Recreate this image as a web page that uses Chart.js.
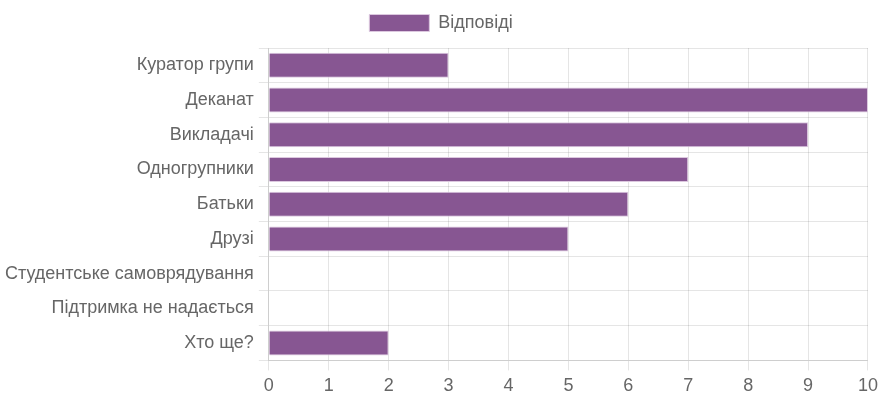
<!DOCTYPE html>
<html>
<head>
<meta charset="utf-8">
<script src="https://cdn.jsdelivr.net/npm/chart.js@4"></script>
<style>
  html, body { margin: 0; padding: 0; background: #fff; }
  #wrap { width: 883px; height: 402px; }
</style>
</head>
<body>
<div id="wrap"><canvas id="chart" width="883" height="402"></canvas></div>
<script>
const categories = ['Куратор групи', 'Деканат', 'Викладачі', 'Одногрупники', 'Батьки', 'Друзі', 'Студентське самоврядування', 'Підтримка не надається', 'Хто ще?']
const answers = [3, 10, 9, 7, 6, 5, 0, 0, 2]
const xTicks = [0, 1, 2, 3, 4, 5, 6, 7, 8, 9, 10]

const textColor = '#666'
const gridColor = 'rgba(0,0,0,0.1)'
const fontFamily = 'Arial, "Liberation Sans", sans-serif'

// легенда по центру полотна + трохи більше місця під нею
const legendSpacer = {
  id: 'legendSpacer',
  beforeInit(chart) {
    const fit = chart.legend.fit
    chart.legend.fit = function () {
      fit.bind(chart.legend)()
      this.height += 6
    }
  },
  afterLayout(chart) {
    chart.legend.left += 7
    chart.legend.right += 7
  }
}

new Chart(document.getElementById('chart'), {
  type: 'bar',
  data: {
    labels: categories,
    datasets: [{
      label: 'Відповіді',
      data: answers,
      backgroundColor: '#875692',
      borderColor: '#dcc8df',
      borderWidth: 1
    }]
  },
  plugins: [legendSpacer],
  options: {
    indexAxis: 'y',
    responsive: false,
    animation: false,
    layout: { padding: { top: 2, right: 15, left: 0, bottom: 0 } },
    plugins: {
      legend: {
        labels: {
          boxWidth: 60,
          boxHeight: 17,
          color: textColor,
          padding: 12,
          font: { family: fontFamily, size: 18 }
        }
      },
      tooltip: { enabled: false }
    },
    scales: {
      x: {
        min: 0,
        max: 10,
        afterBuildTicks: (axis) => { axis.ticks = xTicks.map(v => ({ value: v })) },
        grid: { color: gridColor, tickLength: 10 },
        ticks: {
          color: textColor,
          padding: 5,
          font: { family: fontFamily, size: 18 }
        }
      },
      y: {
        grid: { color: gridColor, tickLength: 10 },
        ticks: {
          color: textColor,
          padding: 5,
          font: { family: fontFamily, size: 18 }
        }
      }
    }
  }
})
</script>
</body>
</html>
